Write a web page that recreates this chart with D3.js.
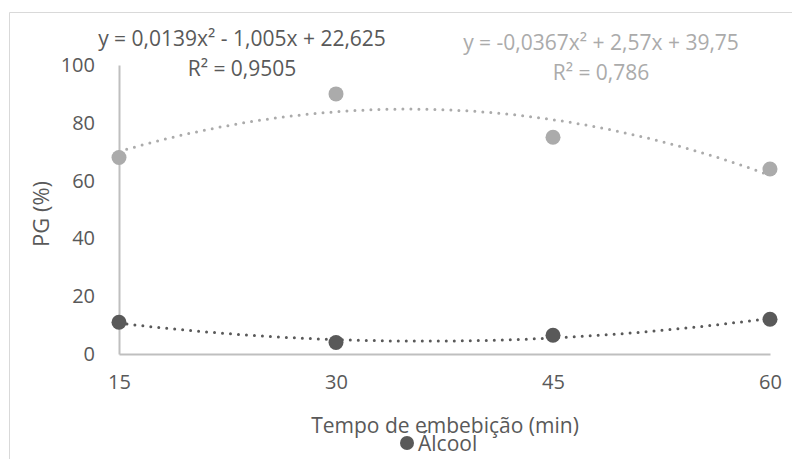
<!DOCTYPE html>
<html>
<head>
<meta charset="utf-8">
<script src="https://cdn.jsdelivr.net/npm/d3@7"></script>
<style>
  html, body { margin: 0; padding: 0; background: #fff; }
  svg { display: block; font-family: "Open Sans", sans-serif; }
</style>
</head>
<body>
<svg id="chart" width="792" height="459"></svg>
<script>
// Imbibition time (min) on the x axis
const tempos = [15, 30, 45, 60];
// Germination percentage for each treatment
const pgClaro = [68, 90, 75, 64];
const pgAlcool = [11, 4, 6.5, 12];
// Quadratic trend coefficients [a, b, c] for y = a·x² + b·x + c
const coefClaro = [-0.0367, 2.57, 39.75];
const coefAlcool = [0.0139, -1.005, 22.625];
const eqClaro = ["y = -0,0367x² + 2,57x + 39,75", "R² = 0,786"];
const eqAlcool = ["y = 0,0139x² - 1,005x + 22,625", "R² = 0,9505"];
const yTicks = [0, 20, 40, 60, 80, 100];
const xTicks = [15, 30, 45, 60];

const svg = d3.select("#chart");
const colDark = "#595959", colLight = "#ababab", textCol = "#595959";

// chart frame (top and left edges)
svg.append("path").attr("d", "M9.5,459 V12.5 H792")
  .attr("fill", "none").attr("stroke", "#d9d9d9").attr("stroke-width", 1);

const x = d3.scaleLinear().domain([15, 60]).range([119, 770]);
const y = d3.scaleLinear().domain([0, 100]).range([354, 65]);

// axes
const yAxis = svg.append("g").attr("transform", "translate(119,0)")
  .call(d3.axisLeft(y).tickValues(yTicks).tickSize(0).tickPadding(24));
const xAxis = svg.append("g").attr("transform", "translate(0,354)")
  .call(d3.axisBottom(x).tickValues(xTicks).tickSize(0).tickPadding(21));
[yAxis, xAxis].forEach(g => {
  g.select(".domain").attr("stroke", "#bfbfbf").attr("stroke-width", 2);
  g.selectAll("text").attr("fill", textCol).attr("font-size", 20)
    .attr("font-family", "Open Sans, sans-serif");
});

// trend curves
const quad = c => v => c[0] * v * v + c[1] * v + c[2];
const xs = d3.range(15, 60.01, 0.5);
const line = f => d3.line().x(d => x(d)).y(d => y(f(d)));
[[coefClaro, colLight], [coefAlcool, colDark]].forEach(([c, col]) => {
  svg.append("path").datum(xs).attr("d", line(quad(c)))
    .attr("fill", "none").attr("stroke", col).attr("stroke-width", 3)
    .attr("stroke-linecap", "round").attr("stroke-dasharray", "0,8");
});

// points
[[pgClaro, colLight], [pgAlcool, colDark]].forEach(([vals, col]) => {
  svg.append("g").selectAll("circle").data(vals).join("circle")
    .attr("cx", (d, i) => x(tempos[i])).attr("cy", d => y(d))
    .attr("r", 7.5).attr("fill", col);
});

// trend equations
function eq(lines, cx, y0, col) {
  lines.forEach((t, i) => svg.append("text").attr("x", cx).attr("y", y0 + i * 30)
    .attr("text-anchor", "middle").attr("font-size", 21).attr("fill", col).text(t));
}
eq(eqAlcool, 242, 46, textCol);
eq(eqClaro, 601, 50, colLight);

// axis titles
svg.append("text").attr("transform", "translate(49,214) rotate(-90)")
  .attr("text-anchor", "middle").attr("font-size", 22).attr("fill", textCol).text("PG (%)");
svg.append("text").attr("x", 445).attr("y", 433)
  .attr("text-anchor", "middle").attr("font-size", 21).attr("fill", textCol)
  .text("Tempo de embebição (min)");

// legend
svg.append("circle").attr("cx", 407).attr("cy", 443).attr("r", 7).attr("fill", colDark);
svg.append("text").attr("x", 418).attr("y", 451).attr("font-size", 21)
  .attr("fill", textCol).text("Álcool");
</script>
</body>
</html>
